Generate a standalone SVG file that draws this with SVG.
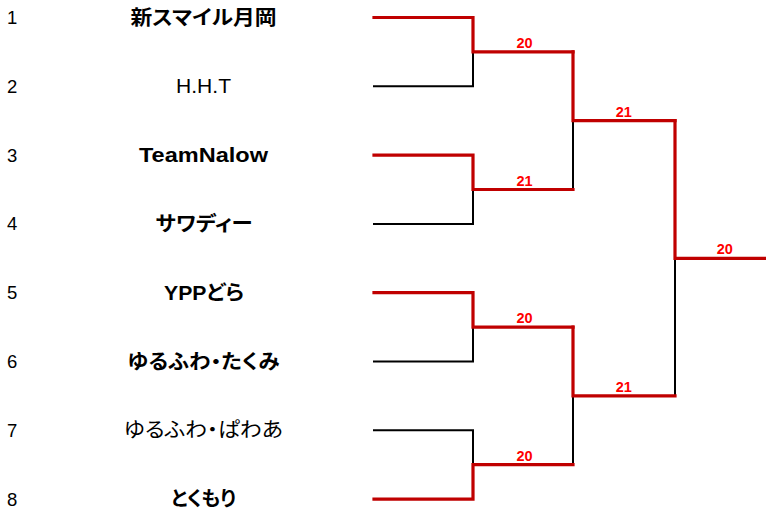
<svg xmlns="http://www.w3.org/2000/svg" width="766" height="514" viewBox="0 0 766 514">
<style>
.num{font-family:"Liberation Sans","Noto Sans CJK JP",sans-serif;font-size:18.5px;fill:#000}
.name{font-family:"Liberation Sans","Noto Sans CJK JP",sans-serif;font-size:20px;fill:#000;text-anchor:middle;font-feature-settings:"palt"}
.b{font-weight:bold}
.score{font-family:"Liberation Sans",sans-serif;font-size:14.5px;font-weight:bold;fill:#FF0000;text-anchor:middle}
.lose{fill:none;stroke:#000;stroke-width:2}
.win{fill:none;stroke:#C00000;stroke-width:3.2;stroke-linecap:square}
</style>
<rect width="766" height="514" fill="#fff"/>
<g id="team1"><text class="num" x="7" y="24">1</text><text class="name b" x="203.5" y="24.5" textLength="146" lengthAdjust="spacingAndGlyphs">新スマイル月岡</text></g>
<g id="team2"><text class="num" x="7" y="92.8">2</text><text class="name" x="203.5" y="93" textLength="55" lengthAdjust="spacingAndGlyphs">H.H.T</text></g>
<g id="team3"><text class="num" x="7" y="161.6">3</text><text class="name b" x="203.5" y="161.8" textLength="129" lengthAdjust="spacingAndGlyphs">TeamNalow</text></g>
<g id="team4"><text class="num" x="7" y="230.4">4</text><text class="name b" x="204" y="231" textLength="97" lengthAdjust="spacingAndGlyphs">サワディー</text></g>
<g id="team5"><text class="num" x="7" y="299.2">5</text><text class="name b" x="204" y="299.6" textLength="80" lengthAdjust="spacingAndGlyphs">YPPどら</text></g>
<g id="team6"><text class="num" x="7" y="368">6</text><text class="name b" x="203.5" y="368.6" textLength="152" lengthAdjust="spacingAndGlyphs">ゆるふわ・たくみ</text></g>
<g id="team7"><text class="num" x="7" y="436.8">7</text><text class="name" x="203.5" y="437.4" textLength="159" lengthAdjust="spacingAndGlyphs">ゆるふわ・ぱわあ</text></g>
<g id="team8"><text class="num" x="7" y="505.6">8</text><text class="name b" x="203.5" y="506.2" textLength="65" lengthAdjust="spacingAndGlyphs">とくもり</text></g>
<g id="connectors">
<path class="lose" d="M373 86.3H473V51.9"/>
<path class="lose" d="M373 223.9H473V189.5"/>
<path class="lose" d="M373 361.5H473V327.1"/>
<path class="lose" d="M373 430.3H473V464.7"/>
<path class="lose" d="M573 189.5V120.7"/>
<path class="lose" d="M573 464.7V395.9"/>
<path class="lose" d="M675 395.9V258.3"/>
<path class="win" d="M374 17.5H473V51.9H573"/>
<path class="win" d="M374 155.1H473V189.5H573"/>
<path class="win" d="M374 292.7H473V327.1H573"/>
<path class="win" d="M374 499.1H473V464.7H573"/>
<path class="win" d="M573 51.9V120.7H675"/>
<path class="win" d="M573 327.1V395.9H675"/>
<path class="win" d="M675 120.7V258.3H766"/>
</g>
<g id="scores">
<text class="score" x="524.5" y="48">20</text>
<text class="score" x="524.5" y="185.6">21</text>
<text class="score" x="524.5" y="323.2">20</text>
<text class="score" x="524.5" y="460.8">20</text>
<text class="score" x="623.8" y="116.8">21</text>
<text class="score" x="623.8" y="392">21</text>
<text class="score" x="724.7" y="254.4">20</text>
</g>
</svg>
